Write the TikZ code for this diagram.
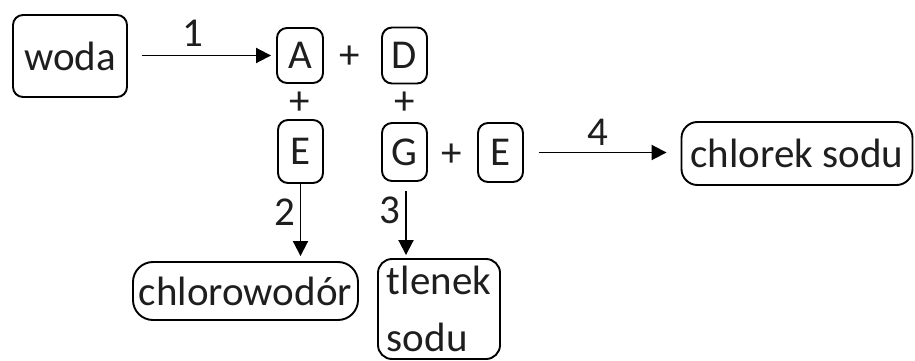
\documentclass[tikz,border=0pt]{standalone}
\usepackage{fontspec}
\setmainfont{Carlito}
\usetikzlibrary{arrows.meta}
\definecolor{ink}{RGB}{30,30,30}
\begin{document}
\begin{tikzpicture}[x=1pt,y=-1pt,
  every node/.style={font=\fontsize{41}{53}\selectfont, text=ink, inner sep=0pt},
  box/.style={draw=black, line width=1.9pt, rounded corners=10pt, minimum width=#1},
  arr/.style={draw=black, line width=1.9pt, -{Triangle[length=15pt,width=15pt]}}]
\useasboundingbox (0,0) rectangle (915,361);
% starting substance
\node[box=114pt, minimum height=82pt] (woda) at (70,56) {woda};
% intermediate products
\node[box=46pt, minimum height=55pt] (A) at (300,55.5) {A};
\node[box=45pt, minimum height=56pt] (D) at (404.5,55.5) {D};
\node[box=45pt, minimum height=63pt] (E) at (300.5,151.5) {E};
\node[box=45pt, minimum height=58pt] (G) at (404.5,152) {G};
\node[box=45pt, minimum height=59pt] (E2) at (500.5,152.5) {E};
% final products
\node[box=231pt, minimum height=63pt, rounded corners=16pt] (nacl) at (797,153.5) {chlorek sodu};
\node[box=225pt, minimum height=58pt, rounded corners=20pt] (hcl) at (245.5,291) {chlorowodór};
\node[box=122pt, minimum height=100pt, rounded corners=14pt, align=left] (na2o) at (439,309) {tlenek\\[4pt]sodu};
% plus signs
\node (p1) at (350,57) {+};
\node (p2) at (300,103) {+};
\node (p3) at (404.5,103) {+};
\node (p4) at (452,155) {+};
% reaction arrows
\draw[arr, shorten <=14pt, shorten >=5pt] (woda.east |- A) -- (A.west);
\draw[arr, shorten <=15pt, shorten >=14pt] (E2.east) -- (nacl.west |- E2);
\draw[arr, shorten >=5pt] (E.south) -- (E.south |- hcl.north);
\draw[arr, shorten <=9pt, shorten >=3pt] ([xshift=1.5pt]G.south) -- ([xshift=1.5pt]G.south |- na2o.north);
% step numbers
\node (n1) at (193,33) {1};
\node (n4) at (598,132) {4};
\node (n2) at (285,212) {2};
\node (n3) at (390,210) {3};
\end{tikzpicture}
\end{document}
